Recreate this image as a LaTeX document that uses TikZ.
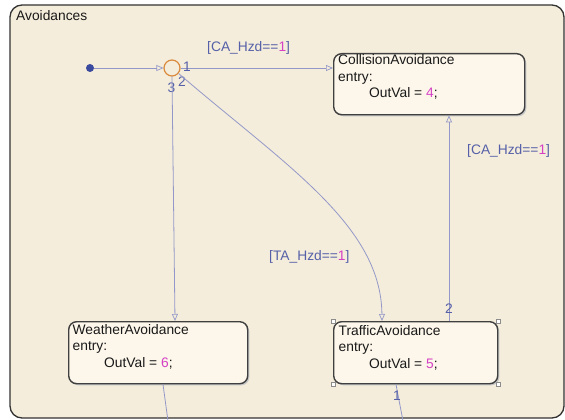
\documentclass[tikz,border=0pt]{standalone}
\usepackage{fontspec}
\setmainfont{Liberation Sans}
\usetikzlibrary{arrows.meta,calc}
\definecolor{chartbg}{HTML}{F5EDDB}
\definecolor{statebg}{HTML}{FDF7EB}
\definecolor{edgeline}{HTML}{9398C9}
\definecolor{labelblue}{HTML}{5560A8}
\definecolor{numpink}{HTML}{D540C4}
\definecolor{dotblue}{HTML}{3A4A9E}
\definecolor{junction}{HTML}{D98A3C}
\begin{document}
\begin{tikzpicture}[x=1pt,y=-1pt,
  font=\fontsize{13.8}{16}\selectfont,
  chartframe/.style={draw=black!80, line width=1.3pt, fill=chartbg, rounded corners=12pt},
  statebox/.style={draw=black!75, line width=1.4pt, fill=statebg, rounded corners=8pt,
    inner sep=0pt, anchor=north west,
    preaction={fill=black!22, transform canvas={shift={(1.6pt,-1.6pt)}}}},
  txt/.style={inner sep=0pt, anchor=base west, text=black!90},
  trans/.style={draw=edgeline, line width=0.8pt,
    -{Triangle[open, length=7pt, width=6pt, line width=0.7pt]}},
  plain/.style={draw=edgeline, line width=0.8pt},
  guard/.style={inner sep=0pt, anchor=base west, text=labelblue},
  handle/.style={draw=black!45, fill=white, line width=0.4pt, minimum size=4.5pt, inner sep=0pt}]
\useasboundingbox (0,0) rectangle (565,420);
\fill[white] (0,0) rectangle (565,420);

% chart frame
\draw[chartframe] (10,5) rectangle (564,418);
\node[txt] (title) at (16,20.5) {Avoidances};

% states
\node[statebox, minimum width=191pt, minimum height=61pt] (ca) at (333,53) {};
\node[statebox, minimum width=179pt, minimum height=62pt] (wa) at (68,321) {};
\node[statebox, minimum width=164pt, minimum height=62pt] (ta) at (333,321) {};

\node[txt] (ca1) at (338,65) {CollisionAvoidance};
\node[txt] (ca2) at (338,81.5) {entry:};
\node[txt] (ca3) at (369,98) {OutVal = \textcolor{numpink}{4};};

\node[txt] (wa1) at (72.5,334) {WeatherAvoidance};
\node[txt] (wa2) at (72.5,350.5) {entry:};
\node[txt] (wa3) at (104,367) {OutVal = \textcolor{numpink}{6};};

\node[txt] (ta1) at (338.5,335) {TrafficAvoidance};
\node[txt] (ta2) at (338.5,351.5) {entry:};
\node[txt] (ta3) at (369,368) {OutVal = \textcolor{numpink}{5};};

% selection handles
\foreach \c in {north west,north east,south west,south east}
  \node[handle] at (ta.\c) {};

% default transition and junction
\node[circle, fill=dotblue, minimum size=8pt, inner sep=0pt] (init) at (90,68) {};
\node[circle, draw=junction, line width=1.2pt, minimum size=16pt, inner sep=0pt] (j) at (172,68) {};
\draw[trans] (init) -- (j);

% junction branches
\draw[trans] (j.east) -- (ca.west |- j.east);
\node[guard] (g1) at (207,52) {[CA\_Hzd==\textcolor{numpink}{1}]};
\node[guard] (n1) at (183,72) {1};
\node[guard] (n2) at (178,86.5) {2};
\node[guard] (n3) at (167.5,92.5) {3};

\coordinate (waIn) at ($(wa.north west)+(107,0)$);
\draw[trans] (j.south) -- (waIn);

\coordinate (taIn) at ($(ta.north west)+(49,0)$);
\draw[trans] (j.-40) .. controls (285,165) and (381,225) .. (taIn);
\node[guard] (g2) at (269,260) {[TA\_Hzd==\textcolor{numpink}{1}]};

% TrafficAvoidance -> CollisionAvoidance
\coordinate (taOut) at ($(ta.north west)+(116,0)$);
\draw[trans] (taOut) -- (ca.south -| taOut);
\node[guard] (n4) at (445,313) {2};
\node[guard] (g3) at (467,154) {[CA\_Hzd==\textcolor{numpink}{1}]};

% outgoing transitions leaving the view
\coordinate (waOut) at ($(wa.south west)+(95,0)$);
\coordinate (waEnd) at (168,421);
\draw[plain] (waOut) -- (waEnd);
\coordinate (taLow) at ($(ta.south west)+(63,0)$);
\coordinate (taEnd) at (403,421);
\draw[plain] (taLow) -- (taEnd);
\node[guard] (n5) at (393,400) {1};
\end{tikzpicture}
\end{document}
